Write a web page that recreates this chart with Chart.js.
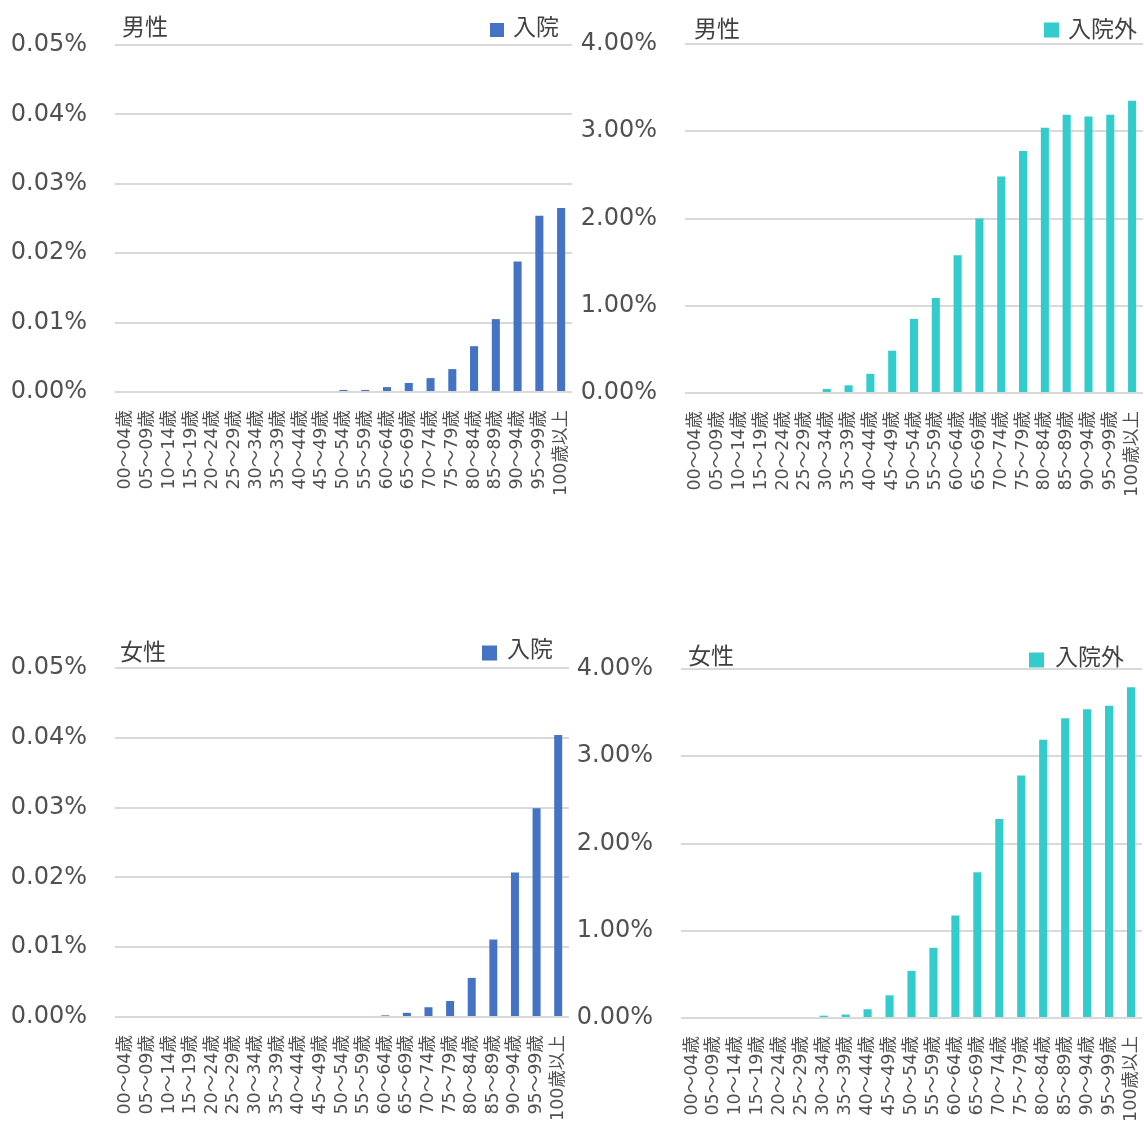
<!DOCTYPE html>
<html><head><meta charset="utf-8">
<script src="https://cdn.jsdelivr.net/npm/chart.js@4"></script>
<style>
html,body{margin:0;padding:0;background:#fff;overflow:hidden;width:1144px;height:1122px;position:relative}
canvas{position:absolute}
</style></head><body>
<canvas id="c1"></canvas><canvas id="c2"></canvas><canvas id="c3"></canvas><canvas id="c4"></canvas>
<script>
const categories = ['00～04歳','05～09歳','10～14歳','15～19歳','20～24歳','25～29歳','30～34歳','35～39歳','40～44歳','45～49歳','50～54歳','55～59歳','60～64歳','65～69歳','70～74歳','75～79歳','80～84歳','85～89歳','90～94歳','95～99歳','100歳以上'];
const maleInpatient = [0,0,0,0,0,0,0,0,0,0,0.0003,0.0003,0.0007,0.0013,0.0020,0.0033,0.0066,0.0105,0.0188,0.0254,0.0265];
const maleOutpatient = [0,0,0,0,0,0,0.046,0.088,0.22,0.485,0.85,1.09,1.58,2.00,2.48,2.775,3.04,3.19,3.17,3.19,3.35];
const femaleInpatient = [0,0,0,0,0,0,0,0,0,0,0,0,0.00024,0.0006,0.0014,0.0023,0.0056,0.0111,0.0207,0.0299,0.0404];
const femaleOutpatient = [0,0,0,0,0,0,0.027,0.04,0.10,0.26,0.54,0.805,1.175,1.67,2.28,2.78,3.19,3.435,3.54,3.58,3.79];
const inpatientTicks = [0,0.01,0.02,0.03,0.04,0.05];
const outpatientTicks = [0,1,2,3,4];
const seriesNames = ['入院','入院外'];
const sexNames = ['男性','女性'];

const FONT = "'DejaVu Sans','Noto Sans CJK JP',sans-serif";
const HFONT = "'Noto Sans','Noto Sans CJK JP',sans-serif";
const BLUE = '#4472c4', TEAL = '#33cccc';

const headerPlugin = {
  id: 'header',
  afterDraw(chart, args, o) {
    const ctx = chart.ctx;
    ctx.save();
    ctx.font = o.size + 'px ' + HFONT;
    ctx.textBaseline = 'middle';
    ctx.textAlign = 'left';
    ctx.fillStyle = '#404040';
    ctx.fillText(o.title, o.tx, o.ty);
    ctx.fillStyle = chart.data.datasets[0].backgroundColor;
    ctx.fillRect(o.bx, o.by - o.bs / 2, o.bs, o.bs);
    ctx.fillStyle = '#404040';
    ctx.fillText(chart.data.datasets[0].label, o.lx, o.ly);
    ctx.restore();
  }
};

function makeChart(id, cfg) {
  const cv = document.getElementById(id);
  cv.width = cfg.W; cv.height = cfg.H;
  cv.style.left = cfg.left + 'px'; cv.style.top = cfg.top + 'px';
  cv.style.width = cfg.W + 'px'; cv.style.height = cfg.H + 'px';
  const tickVals = cfg.ticks;
  new Chart(cv, {
    type: 'bar',
    data: {
      labels: categories,
      datasets: [{ label: cfg.label, data: cfg.data, backgroundColor: cfg.color, borderWidth: 0,
        barPercentage: 0.37, categoryPercentage: 1.0 }]
    },
    options: {
      responsive: false, animation: false, devicePixelRatio: 1,
      layout: { padding: { top: cfg.padTop, right: cfg.padRight, left: 0, bottom: 0 } },
      plugins: { legend: { display: false }, title: { display: false }, tooltip: { enabled: false },
        header: cfg.header },
      scales: {
        x: {
          grid: { display: false }, border: { display: false },
          ticks: { minRotation: 90, maxRotation: 90, autoSkip: false, padding: 10, color: '#505050',
            font: { size: 17.5, family: FONT } },
          afterFit(s) { s.height = 120; s.paddingLeft = 0; s.paddingRight = 0; }
        },
        y: {
          min: tickVals[0], max: tickVals[tickVals.length - 1],
          afterBuildTicks(s) { s.ticks = tickVals.map(v => ({ value: v })); },
          ticks: { padding: 28, color: '#505050', font: { size: 24, family: FONT },
            callback: v => Number(v).toFixed(2) + '%' },
          grid: { color: '#d9d9d9', lineWidth: 2, drawTicks: false },
          border: { display: false },
          afterFit(s) { s.width = cfg.yW; s.paddingTop = 0; s.paddingBottom = 0; }
        }
      }
    },
    plugins: [headerPlugin]
  });
}

makeChart('c1', { left: 0, top: 0, W: 575, H: 512, padTop: 45, padRight: 3, yW: 115,
  data: maleInpatient, label: seriesNames[0], color: BLUE, ticks: inpatientTicks,
  header: { title: sexNames[0], size: 23, tx: 122, ty: 28, bx: 490, by: 30, bs: 14, lx: 513, ly: 28 } });
makeChart('c2', { left: 570, top: 0, W: 576, H: 513, padTop: 44, padRight: 3, yW: 115,
  data: maleOutpatient, label: seriesNames[1], color: TEAL, ticks: outpatientTicks,
  header: { title: sexNames[0], size: 23, tx: 124, ty: 30, bx: 474, by: 30, bs: 15, lx: 498, ly: 30 } });
makeChart('c3', { left: 0, top: 620, W: 572, H: 517, padTop: 48, padRight: 3, yW: 115,
  data: femaleInpatient, label: seriesNames[0], color: BLUE, ticks: inpatientTicks,
  header: { title: sexNames[1], size: 23, tx: 120, ty: 33, bx: 482, by: 33, bs: 15, lx: 507, ly: 30 } });
makeChart('c4', { left: 570, top: 620, W: 575, H: 518, padTop: 49, padRight: 3, yW: 111,
  data: femaleOutpatient, label: seriesNames[1], color: TEAL, ticks: outpatientTicks,
  header: { title: sexNames[1], size: 23, tx: 118, ty: 37, bx: 459, by: 40, bs: 15, lx: 485, ly: 38 } });
</script>
</body></html>
